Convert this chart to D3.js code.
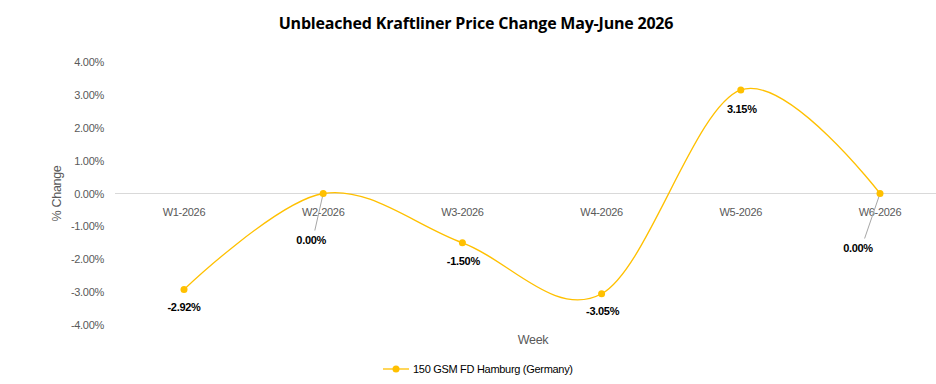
<!DOCTYPE html>
<html>
<head>
<meta charset="utf-8">
<script src="https://cdn.jsdelivr.net/npm/d3@7"></script>
<style>
  body { margin: 0; background: #fff; }
  text { font-family: "Liberation Sans", Arial, sans-serif; letter-spacing: -0.3px; }
</style>
</head>
<body>
<svg width="936" height="384"></svg>
<script>
var weeks = ["W1-2026", "W2-2026", "W3-2026", "W4-2026", "W5-2026", "W6-2026"]
var change = [-2.92, 0.00, -1.50, -3.05, 3.15, 0.00]
var yTicks = [4, 3, 2, 1, 0, -1, -2, -3, -4]
var seriesName = "150 GSM FD Hamburg (Germany)"

var svg = d3.select("svg")
var gold = "#FFC000"
var pct = v => d3.format(".2f")(v).replace("\u2212", "-") + "%"

var x = d3.scalePoint().domain(weeks).range([184, 880])
var y = d3.scaleLinear().domain([-4, 4]).range([325, 62])

// title
svg.append("text")
  .attr("x", 476).attr("y", 29)
  .attr("text-anchor", "middle")
  .style("font-family", "'Open Sans', sans-serif")
  .style("letter-spacing", "-0.2px")
  .style("font-size", "16px").style("font-weight", "bold")
  .style("fill", "#000")
  .text("Unbleached Kraftliner Price Change May-June 2026")

// zero line
svg.append("line")
  .attr("x1", 115).attr("x2", 936)
  .attr("y1", y(0)).attr("y2", y(0))
  .style("stroke", "#d9d9d9").style("stroke-width", 1)

// y axis labels
svg.selectAll(".ytick").data(yTicks).enter().append("text")
  .attr("x", 104).attr("y", d => y(d) + 4)
  .attr("text-anchor", "end")
  .style("font-size", "11px").style("fill", "#595959")
  .text(pct)

// category labels
svg.selectAll(".xtick").data(weeks).enter().append("text")
  .attr("x", d => x(d)).attr("y", 216)
  .attr("text-anchor", "middle")
  .style("font-size", "11px").style("fill", "#595959")
  .text(d => d)

// axis titles
svg.append("text")
  .attr("transform", "translate(61," + y(0) + ") rotate(-90)")
  .attr("text-anchor", "middle")
  .style("font-size", "12.5px").style("fill", "#595959")
  .text("% Change")

svg.append("text")
  .attr("x", 533).attr("y", 344)
  .attr("text-anchor", "middle")
  .style("font-size", "12.5px").style("fill", "#595959")
  .text("Week")

var pts = weeks.map((w, i) => ({w: w, v: change[i]}))

var line = d3.line()
  .x(d => x(d.w)).y(d => y(d.v))
  .curve(d3.curveCatmullRom.alpha(0))

svg.append("path")
  .datum(pts)
  .attr("d", line)
  .style("fill", "none").style("stroke", gold).style("stroke-width", 1.3)

// label placement; the two zero labels sit lower with a leader line
var labelOffsets = [
  {dx: 0, dy: 22, leader: false},
  {dx: -12, dy: 50, leader: true},
  {dx: 1, dy: 22, leader: false},
  {dx: 1, dy: 21, leader: false},
  {dx: 1, dy: 23, leader: false},
  {dx: -22, dy: 58, leader: true}
]

svg.selectAll(".leader").data(pts.filter((d, i) => labelOffsets[i].leader)).enter().append("line")
  .attr("x1", d => x(d.w)).attr("y1", d => y(d.v))
  .attr("x2", d => x(d.w) + labelOffsets[weeks.indexOf(d.w)].dx * 0.7)
  .attr("y2", d => y(d.v) + labelOffsets[weeks.indexOf(d.w)].dy - 13)
  .style("stroke", "#a6a6a6").style("stroke-width", 1)

svg.selectAll(".dot").data(pts).enter().append("circle")
  .attr("cx", d => x(d.w)).attr("cy", d => y(d.v))
  .attr("r", 3.5).style("fill", gold)

svg.selectAll(".lbl").data(pts).enter().append("text")
  .attr("x", (d, i) => x(d.w) + labelOffsets[i].dx)
  .attr("y", (d, i) => y(d.v) + labelOffsets[i].dy)
  .attr("text-anchor", "middle")
  .style("font-size", "11px").style("font-weight", "bold").style("fill", "#000")
  .text(d => pct(d.v))

// legend
var lg = svg.append("g").attr("transform", "translate(383,369)")
lg.append("line").attr("x1", 0).attr("x2", 26).attr("y1", 0).attr("y2", 0)
  .style("stroke", gold).style("stroke-width", 1.3)
lg.append("circle").attr("cx", 13).attr("cy", 0).attr("r", 3.5).style("fill", gold)
lg.append("text").attr("x", 30).attr("y", 4)
  .style("font-size", "11px").style("fill", "#000")
  .text(seriesName)
</script>
</body>
</html>
